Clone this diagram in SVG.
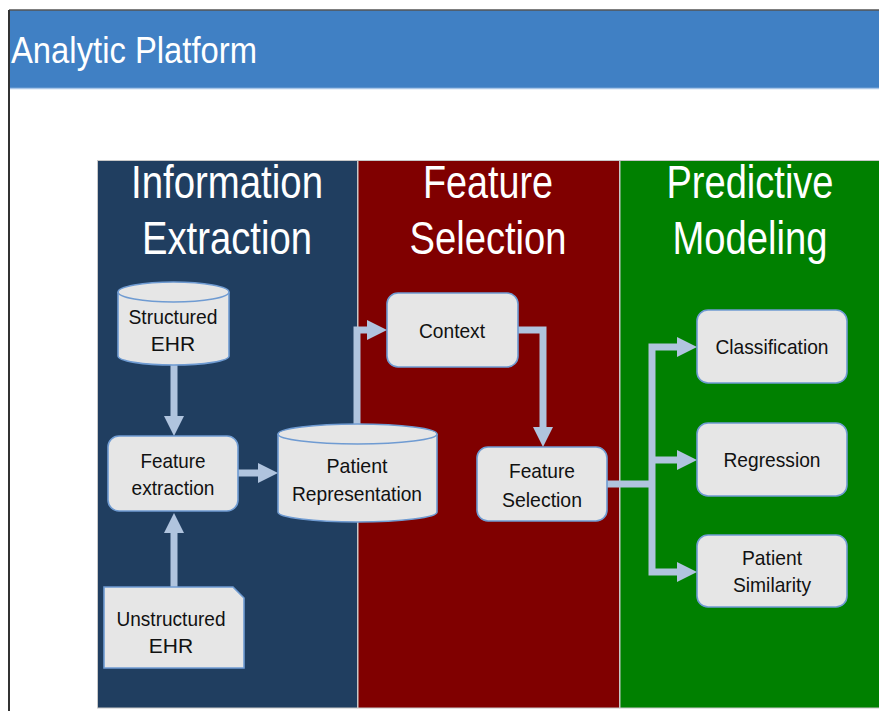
<svg xmlns="http://www.w3.org/2000/svg" width="879" height="711" viewBox="0 0 879 711">
<style>
.hdr{font-family:"Liberation Sans",Arial,sans-serif;font-size:46px;fill:#ffffff;text-anchor:middle}
.nt{font-family:"Liberation Sans",Arial,sans-serif;font-size:21px;fill:#111111;text-anchor:middle}
.node{fill:#e6e6e6;stroke:#6f9bd2;stroke-width:1.6}
.conn{fill:none;stroke:#b0c4de;stroke-width:7;stroke-linejoin:miter}
.panel{stroke:#c8c8c8;stroke-width:1}
</style>
<defs>
<marker id="ah" viewBox="0 0 20 20" markerWidth="20" markerHeight="20" refX="0" refY="10" orient="auto" markerUnits="userSpaceOnUse">
<path d="M0,0 L20,10 L0,20 Z" fill="#b0c4de"/>
</marker>
</defs>
<rect x="0" y="0" width="879" height="711" fill="#ffffff"/>
<g id="frame">
<rect x="9" y="10" width="870" height="78" fill="#4080c4"/>
<line x1="9" y1="88.5" x2="879" y2="88.5" stroke="#a9c6e8" stroke-width="1.5"/>
<line x1="9" y1="10" x2="879" y2="10" stroke="#555555" stroke-width="1.5"/>
<line x1="9" y1="10" x2="9" y2="711" stroke="#333333" stroke-width="2"/>
<text x="11" y="63" font-family="'Liberation Sans',Arial,sans-serif" font-size="37" fill="#ffffff" textLength="246" lengthAdjust="spacingAndGlyphs">Analytic Platform</text>
</g>
<g id="panels">
<rect class="panel" x="97.5" y="160.5" width="260" height="547.5" fill="#203e60"/>
<rect class="panel" x="358" y="160.5" width="261.5" height="547.5" fill="#800000"/>
<rect class="panel" x="620" y="160.5" width="260" height="547.5" fill="#008000"/>
<text class="hdr" x="227" y="198" textLength="192" lengthAdjust="spacingAndGlyphs">Information</text>
<text class="hdr" x="227" y="254" textLength="170" lengthAdjust="spacingAndGlyphs">Extraction</text>
<text class="hdr" x="488" y="198" textLength="130" lengthAdjust="spacingAndGlyphs">Feature</text>
<text class="hdr" x="488" y="254" textLength="157" lengthAdjust="spacingAndGlyphs">Selection</text>
<text class="hdr" x="750" y="198" textLength="167" lengthAdjust="spacingAndGlyphs">Predictive</text>
<text class="hdr" x="750" y="254" textLength="155" lengthAdjust="spacingAndGlyphs">Modeling</text>
</g>
<g id="connectors">
<path class="conn" d="M174,365 V416" marker-end="url(#ah)"/>
<path class="conn" d="M238,473 H258" marker-end="url(#ah)"/>
<path class="conn" d="M174,587 V533" marker-end="url(#ah)"/>
<path class="conn" d="M357,424 V330 H367" marker-end="url(#ah)"/>
<path class="conn" d="M518,330 H543 V427" marker-end="url(#ah)"/>
<path class="conn" d="M607,484 H652"/>
<path class="conn" d="M652,484 V347 H677" marker-end="url(#ah)"/>
<path class="conn" d="M652,484 V572 H677" marker-end="url(#ah)"/>
<path class="conn" d="M652,460 H677" marker-end="url(#ah)"/>
</g>
<g id="structured-ehr">
<path class="node" d="M118,292 A55.5,10 0 0 1 229,292 V356 A55.5,9 0 0 1 118,356 Z"/>
<path class="node" d="M118,292 A55.5,10 0 0 0 229,292" fill="none"/>
<text class="nt" x="173" y="324" textLength="89" lengthAdjust="spacingAndGlyphs">Structured</text>
<text class="nt" x="173" y="351">EHR</text>
</g>
<g id="feature-extraction">
<rect class="node" x="108" y="436" width="130" height="75" rx="11"/>
<text class="nt" x="173" y="468" textLength="65" lengthAdjust="spacingAndGlyphs">Feature</text>
<text class="nt" x="173" y="495" textLength="83" lengthAdjust="spacingAndGlyphs">extraction</text>
</g>
<g id="unstructured-ehr">
<path class="node" d="M104,587 H233 L244,598 V668 H104 Z"/>
<text class="nt" x="171" y="626" textLength="109" lengthAdjust="spacingAndGlyphs">Unstructured</text>
<text class="nt" x="171" y="653">EHR</text>
</g>
<g id="patient-representation">
<path class="node" d="M278,434 A79.5,10 0 0 1 437,434 V512 A79.5,10 0 0 1 278,512 Z"/>
<path class="node" d="M278,434 A79.5,10 0 0 0 437,434" fill="none"/>
<text class="nt" x="357" y="473" textLength="61" lengthAdjust="spacingAndGlyphs">Patient</text>
<text class="nt" x="357" y="501" textLength="130" lengthAdjust="spacingAndGlyphs">Representation</text>
</g>
<g id="context">
<rect class="node" x="387" y="293" width="131" height="74" rx="11"/>
<text class="nt" x="452" y="338" textLength="66" lengthAdjust="spacingAndGlyphs">Context</text>
</g>
<g id="feature-selection">
<rect class="node" x="477" y="447" width="130" height="74" rx="11"/>
<text class="nt" x="542" y="478" textLength="66" lengthAdjust="spacingAndGlyphs">Feature</text>
<text class="nt" x="542" y="507" textLength="80" lengthAdjust="spacingAndGlyphs">Selection</text>
</g>
<g id="classification">
<rect class="node" x="697" y="310" width="150" height="73" rx="11"/>
<text class="nt" x="772" y="354" textLength="113" lengthAdjust="spacingAndGlyphs">Classification</text>
</g>
<g id="regression">
<rect class="node" x="697" y="423" width="150" height="73" rx="11"/>
<text class="nt" x="772" y="467" textLength="97" lengthAdjust="spacingAndGlyphs">Regression</text>
</g>
<g id="patient-similarity">
<rect class="node" x="697" y="535" width="150" height="72" rx="11"/>
<text class="nt" x="772" y="565" textLength="60" lengthAdjust="spacingAndGlyphs">Patient</text>
<text class="nt" x="772" y="592" textLength="78" lengthAdjust="spacingAndGlyphs">Similarity</text>
</g>
</svg>
